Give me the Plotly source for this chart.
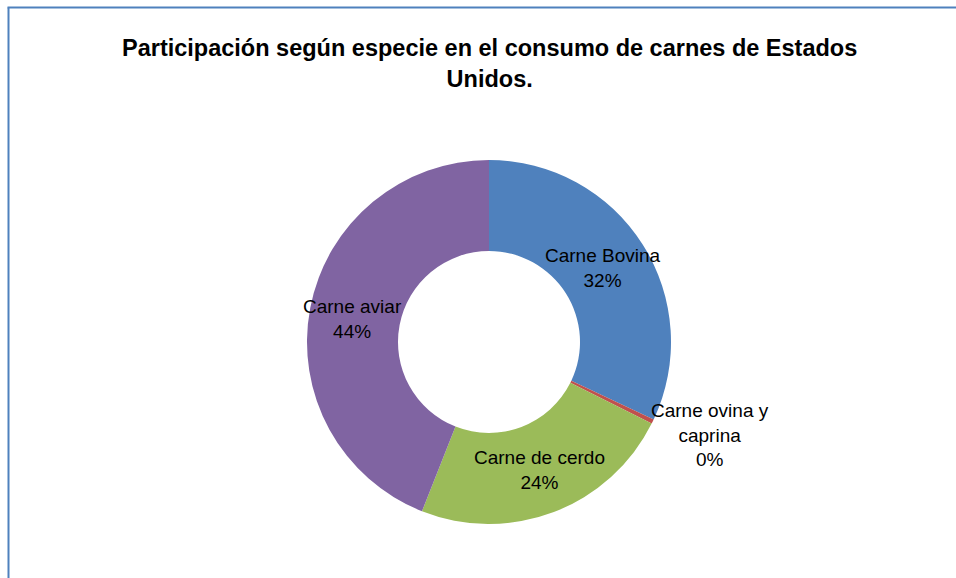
import plotly.graph_objects as go

categories = ["Carne Bovina", "Carne ovina y caprina", "Carne de cerdo", "Carne aviar"]
values = [32.0, 0.4, 23.6, 44.0]
colors = ["#4F81BD", "#C0504D", "#9BBB59", "#8064A2"]
label_text = ["Carne Bovina<br>32%", "Carne ovina y<br>caprina<br>0%", "Carne de cerdo<br>24%", "Carne aviar<br>44%"]
title_text = "Participación según especie en el consumo de carnes de Estados<br>Unidos."

W, H = 956, 578
FONT = "Liberation Sans, Arial, sans-serif"

def px(x):
    return x / W

def py(y):
    return 1 - y / H

fig = go.Figure(go.Pie(
    labels=categories,
    values=values,
    hole=0.5,
    sort=False,
    direction="clockwise",
    rotation=0,
    marker=dict(colors=colors, line=dict(width=0)),
    textinfo="none",
    hoverinfo="label+percent",
    showlegend=False,
    domain=dict(x=[px(489 - 182), px(489 + 182)], y=[py(524), py(160)]),
))

label_pos = [(603, 268), (710, 435), (539, 470), (352, 319)]
annotations = []
for t, (x, y) in zip(label_text, label_pos):
    annotations.append(dict(
        text=t, x=px(x), y=py(y), xref="paper", yref="paper",
        showarrow=False, xanchor="center", yanchor="middle",
        font=dict(family=FONT, size=19, color="#000000"),
    ))

annotations.append(dict(
    text="<b>" + title_text + "</b>", x=px(489), y=py(63), xref="paper", yref="paper",
    showarrow=False, xanchor="center", yanchor="middle",
    font=dict(family=FONT, size=23.5, color="#000000"),
))

shapes = [
    dict(type="line", xref="paper", yref="paper", x0=px(8.5), y0=0, x1=px(8.5), y1=py(7.5),
         line=dict(color="#4F81BD", width=2)),
    dict(type="line", xref="paper", yref="paper", x0=px(7.5), y0=py(7.5), x1=1, y1=py(7.5),
         line=dict(color="#4F81BD", width=2)),
]

fig.update_layout(
    width=W, height=H,
    margin=dict(l=0, r=0, t=0, b=0),
    paper_bgcolor="white", plot_bgcolor="white",
    annotations=annotations, shapes=shapes,
    font=dict(family=FONT),
)

fig.write_html(
    "out.html",
    config={"displayModeBar": False},
    post_script="document.body.style.margin='0';document.body.style.overflow='hidden';",
)
